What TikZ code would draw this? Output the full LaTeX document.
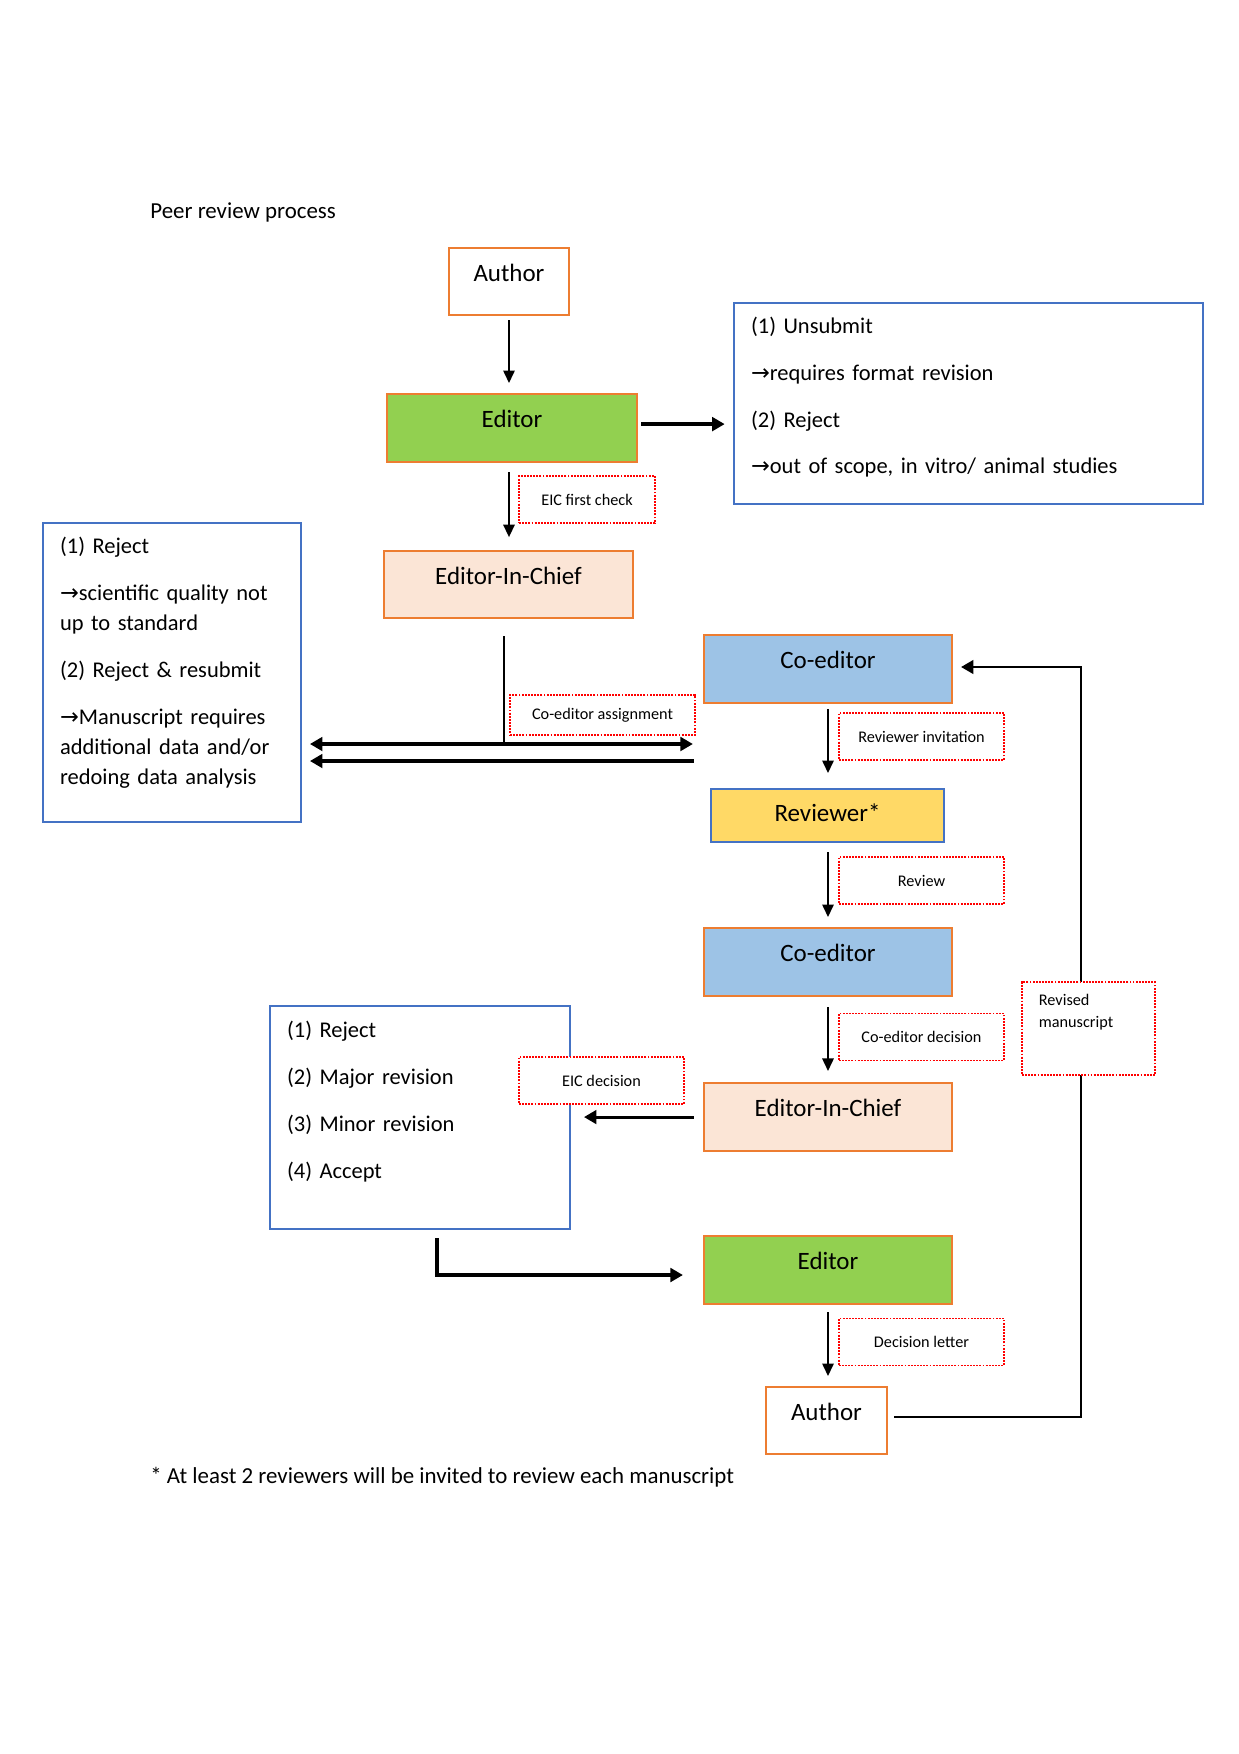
\documentclass[tikz,border=0pt]{standalone}
\usepackage{fontspec}
\setmainfont{Carlito}
\newfontfamily\symfont{DejaVu Sans}
\usetikzlibrary{arrows.meta}
\definecolor{obrd}{HTML}{ED7D31}
\definecolor{bbrd}{HTML}{4472C4}
\definecolor{gfill}{HTML}{92D050}
\definecolor{pfill}{HTML}{FBE5D6}
\definecolor{cfill}{HTML}{9DC3E6}
\definecolor{yfill}{HTML}{FFD966}
\definecolor{rdot}{HTML}{FF0000}
\newcommand{\ra}{{\symfont\char"2192}}
\begin{document}
\begin{tikzpicture}[x=0.4805pt,y=-0.4805pt,
  lbl/.style={inner sep=0pt, text height=15.86pt, text depth=16.82pt,
    font=\fontsize{12}{14}\selectfont, line width=1pt, anchor=north},
  obox/.style={lbl, draw=obrd},
  note/.style={draw=rdot, fill=white, line width=0.9pt, dash pattern=on 0.9pt off 0.6pt,
    inner sep=0pt, font=\fontsize{7.8}{10.6}\selectfont},
  tbox/.style={draw=bbrd, line width=1pt, align=left, inner ysep=0pt, inner xsep=8.17pt,
    anchor=north west},
  tarrow/.style={line width=0.8pt, -{Triangle[length=6pt,width=5.5pt]}},
  karrow/.style={line width=1.5pt, -{Triangle[length=6pt,width=6.5pt]}}]
\useasboundingbox (0,0) rectangle (1239,1754);

% title and footnote
\node[anchor=base west, inner sep=0pt, font=\fontsize{11}{13}\selectfont] (title) at (150,218) {Peer review process};
\node[anchor=base west, inner sep=0pt, font=\fontsize{11}{13}\selectfont] (foot) at (150,1483) {* At least 2 reviewers will be invited to review each manuscript};

% main boxes
\node[obox, minimum width=57.66pt, text depth=16.34pt] (au1) at (509,247) {Author};
\node[obox, fill=gfill, minimum width=120.1pt] (ed1) at (512,393) {Editor};
\node[obox, fill=pfill, minimum width=119.6pt, text depth=16.34pt] (eic1) at (508.5,550) {Editor-In-Chief};
\node[obox, fill=cfill, minimum width=119.2pt] (ce1) at (828,634) {Co-editor};
\node[lbl, draw=bbrd, fill=yfill, minimum width=111.96pt, text height=15.38pt, text depth=10.09pt] (rv) at (827.5,788) {Reviewer*};
\node[obox, fill=cfill, minimum width=119.2pt] (ce2) at (828,927) {Co-editor};
\node[obox, fill=pfill, minimum width=119.2pt] (eic2) at (828,1082) {Editor-In-Chief};
\node[obox, fill=gfill, minimum width=119.2pt] (ed2) at (828,1235) {Editor};
\node[obox, minimum width=58.1pt, text depth=16.34pt] (au2) at (826.5,1386) {Author};

% outcome boxes
\node[tbox, text width=209pt, text height=14.4pt, text depth=82.2pt,
  font=\fontsize{10.8}{22.58}\selectfont] (rb) at (733,302)
  {(1) Unsubmit\\ \ra requires format revision\\ (2) Reject\\ \ra out of scope, in vitro/ animal studies};
\node[tbox, text width=107.6pt, text height=14.4pt, text depth=129.3pt,
  font=\fontsize{10.8}{14.4}\selectfont] (lb1) at (42,522)
  {(1) Reject\\[8.2pt] \ra scientific quality not\\ up to standard\\[8.2pt] (2) Reject \& resubmit\\[8.2pt] \ra Manuscript requires\\ additional data and/or\\ redoing data analysis};
\node[tbox, text width=127.8pt, text height=14.9pt, text depth=92.3pt,
  font=\fontsize{10.8}{22.58}\selectfont] (lb2) at (269,1005)
  {(1) Reject\\ (2) Major revision\\ (3) Minor revision\\ (4) Accept};

% named bend points
\coordinate (j0) at (509,470);
\coordinate (j1) at (504,744);
\coordinate (j2) at (600,761);
\coordinate (c2) at (437,1275);
\coordinate (f1) at (1081,1417);
\coordinate (f2) at (1081,667);

% connectors
\draw[tarrow, shorten <=2pt, shorten >=4.8pt] (au1.south) -- (au1.south |- ed1.north);
\draw[karrow, line width=1.9pt, shorten <=1.5pt, shorten >=4pt] ([yshift=1.9pt]ed1.east) -- ([yshift=1.9pt]ed1.east -| rb.west);
\draw[tarrow, shorten <=4.3pt, shorten >=6.2pt] (ed1.south -| j0) -- (eic1.north -| j0);
\draw[line width=0.8pt, shorten <=8.2pt] (eic1.south -| j1) -- (j1);
\draw[karrow, {Triangle[length=6pt,width=6.5pt]}-{Triangle[length=6pt,width=6.5pt]}, shorten <=3.8pt, shorten >=4.8pt] (lb1.east |- j1) -- (ce1.west |- j1);
\draw[karrow, shorten <=4.3pt, shorten >=3.8pt] (ce1.west |- j2) -- (lb1.east |- j2);
\draw[tarrow, shorten <=2.4pt, shorten >=7.2pt] (ce1.south) -- (ce1.south |- rv.north);
\draw[tarrow, shorten <=4.3pt, shorten >=4.8pt] (ce1.south |- rv.south) -- (ce2.north);
\draw[tarrow, shorten <=4.8pt, shorten >=5.3pt] (ce2.south) -- (eic2.north);
\draw[karrow, shorten <=4.3pt, shorten >=6.2pt] (eic2.west) -- (eic2.west -| lb2.east);
\draw[karrow, shorten <=3.8pt, shorten >=9.6pt] (lb2.south -| c2) -- (c2) -- (c2 -| ed2.west);
\draw[tarrow, shorten <=3.4pt, shorten >=4.8pt] (ed2.south) -- (ed2.south |- au2.north);
\draw[karrow, line width=1.4pt, shorten <=2.9pt, shorten >=3.8pt] (au2.east |- f1) -- (f1) -- (f2) -- (ce1.east |- f2);

% dotted labels
\node[note, minimum width=65.3pt, minimum height=22.6pt] (n1) at (587,499.5) {EIC first check};
\node[note, minimum width=88.9pt, minimum height=19.2pt] (n2) at (602.5,715) {Co-editor assignment};
\node[note, minimum width=79.3pt, minimum height=22.6pt] (n3) at (921.5,736.5) {Reviewer invitation};
\node[note, minimum width=79.3pt, minimum height=22.6pt] (n4) at (921.5,880.5) {Review};
\node[note, minimum width=79.3pt, minimum height=22.6pt] (n5) at (921.5,1037) {Co-editor decision};
\node[note, minimum width=79.3pt, minimum height=22.6pt] (n6) at (601.5,1080.5) {EIC decision};
\node[note, minimum width=79.3pt, minimum height=22.6pt] (n7) at (921.5,1342) {Decision letter};
\node[note, anchor=north west, align=left, inner xsep=8.17pt, text width=47.6pt, text height=11.5pt, text depth=33.2pt] (n8) at (1021,981) {Revised\\ manuscript};
\end{tikzpicture}
\end{document}
